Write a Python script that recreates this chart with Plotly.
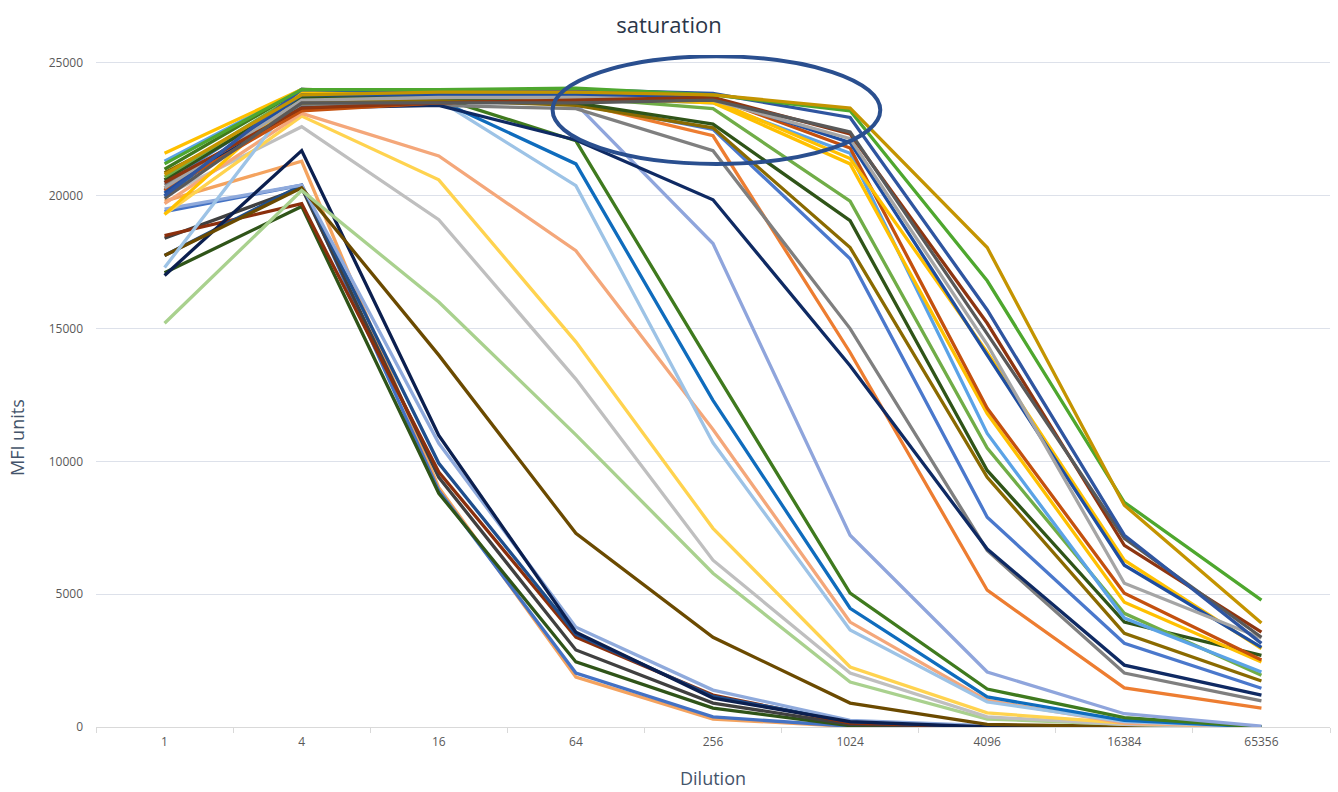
import plotly.graph_objects as go

dilutions = ["1", "4", "16", "64", "256", "1024", "4096", "16384", "65356"]

# late-drop series
s01 = [20800, 23800, 23900, 23900, 23800, 23300, 18050, 8350, 3920]
s02 = [21200, 24000, 24000, 24050, 23800, 23200, 16800, 8460, 4780]
s03 = [20000, 24000, 23900, 24000, 23850, 22950, 15700, 7220, 3150]
s04 = [19900, 23500, 23500, 23500, 23600, 22400, 14800, 7100, 3380]
s05 = [20500, 23300, 23500, 23600, 23700, 22330, 15200, 6840, 3570]
s06 = [20300, 23600, 23700, 23700, 23600, 22150, 14400, 5410, 3350]
s07 = [20100, 23800, 23800, 23800, 23700, 22000, 14000, 6090, 3000]
s08 = [21600, 24000, 23900, 23900, 23600, 21400, 14100, 6280, 2950]
s09 = [20200, 23200, 23500, 23600, 23700, 21800, 12000, 5040, 2520]
s10 = [19300, 23900, 23800, 23700, 23500, 21200, 11800, 4700, 2450]
s11 = [21300, 24000, 23800, 23700, 23500, 21600, 11050, 4100, 2070]
s12 = [20700, 23900, 23800, 23700, 23280, 19800, 10500, 4280, 1950]
s13 = [20600, 23700, 23700, 23500, 22700, 19060, 9660, 3950, 2700]
s14 = [20870, 23500, 23600, 23400, 22560, 18050, 9400, 3530, 1730]
s15 = [20500, 23800, 23700, 23500, 22500, 17630, 7900, 3150, 1460]
s16 = [20200, 23300, 23400, 22100, 19850, 13600, 6700, 2330, 1200]
s17 = [20400, 23400, 23400, 23280, 21700, 15000, 6650, 2030, 980]
s18 = [20300, 23500, 23600, 23500, 22260, 14100, 5150, 1470, 710]
s19 = [20600, 23900, 23700, 23460, 18200, 7220, 2070, 500, 30]
# mid series
s20 = [21000, 24000, 23700, 22070, 13500, 5040, 1430, 350, 0]
s21 = [20000, 23800, 23600, 21200, 12300, 4470, 1130, 250, 0]
s22 = [17300, 24000, 23600, 20380, 10700, 3650, 940, 200, 0]
s23 = [19700, 23100, 21500, 17930, 11200, 3950, 1000, 150, 0]
s24 = [19300, 23000, 20600, 14500, 7480, 2260, 530, 150, 0]
s25 = [20000, 22600, 19100, 13100, 6280, 2030, 380, 100, 0]
s26 = [15200, 20200, 16000, 11000, 5790, 1690, 300, 100, 0]
s27 = [17750, 20300, 14000, 7290, 3380, 900, 100, 20, 0]
# early-drop series
s28 = [17000, 21700, 10980, 3570, 1090, 200, 0, 0, 0]
s29 = [19500, 20400, 10680, 3760, 1390, 250, 50, 0, 0]
s30 = [17750, 20400, 9930, 3500, 1150, 200, 0, 0, 0]
s31 = [18500, 19700, 9600, 3380, 1200, 150, 0, 0, 0]
s32 = [18400, 20300, 9400, 2900, 900, 100, 0, 0, 0]
s33 = [17100, 19600, 8800, 2450, 710, 50, 0, 0, 0]
s34 = [19400, 20400, 8900, 2030, 380, 30, 0, 0, 0]
s35 = [19800, 21300, 9020, 1880, 300, 20, 0, 0, 0]

series = [s35, s34, s33, s32, s31, s30, s29, s28,
          s27, s26, s25, s24, s23, s22, s21, s20,
          s19, s18, s17, s16, s15, s14, s13, s12, s11, s10,
          s09, s08, s07, s06, s05, s04, s03, s02, s01]
colors = ["#f4a35f", "#4472c4", "#2f5418", "#404040", "#8b2f0c", "#1f4e8c", "#8faadc", "#0b1f4f",
          "#6b4a00", "#a9d18e", "#bfbfbf", "#ffd34f", "#f4a77a", "#9dc3e6", "#0f6cbd", "#3f7a1e",
          "#8fa5dc", "#ed7d31", "#7f7f7f", "#0f2a63", "#4a78cc", "#8a6a00", "#2f5418", "#70ad47", "#5ba3e6", "#ffc000",
          "#c4500e", "#ffc000", "#1f4ea0", "#a5a5a5", "#8e3510", "#595959", "#2f55a0", "#4ea72e", "#c49400"]

fig = go.Figure()
for vals, col in zip(series, colors):
    fig.add_trace(go.Scatter(x=dilutions, y=vals, mode="lines",
                             line=dict(color=col, width=3.3), hoverinfo="skip"))

fig.add_shape(type="circle", xref="x", yref="y",
              x0=2.83, x1=5.22, y0=21200, y1=25250,
              line=dict(color="#2a4f8f", width=4), layer="above")

fig.update_layout(
    width=1338, height=792,
    margin=dict(l=96, r=8, t=55, b=65),
    paper_bgcolor="white", plot_bgcolor="white",
    showlegend=False,
    font=dict(family="Open Sans, sans-serif", color="#595959"),
    title=dict(text="saturation", x=0.5, xanchor="center", y=0.968, yanchor="middle",
               font=dict(size=22, color="#2b3648")),
    xaxis=dict(type="category", range=[-0.5, 8.5], showgrid=False,
               showline=True, linecolor="#d9d9d9", linewidth=1,
               ticks="outside", tickson="boundaries", ticklen=5, tickcolor="#d9d9d9",
               ticklabelstandoff=4,
               tickfont=dict(size=12, color="#595959")),
    yaxis=dict(range=[0, 25300], dtick=5000, tick0=0, showgrid=True,
               gridcolor="#dde1ea", gridwidth=1, zeroline=False,
               showline=False, ticks="", tickformat="d",
               ticklabelstandoff=12,
               tickfont=dict(size=12, color="#595959")),
    annotations=[
        dict(text="Dilution", xref="paper", yref="paper", x=0.5, y=-0.076,
             xanchor="center", yanchor="middle", showarrow=False,
             font=dict(size=18, color="#44546a")),
        dict(text="MFI units", xref="paper", x=-0.064, yref="paper", y=0.43,
             xanchor="center", yanchor="middle", showarrow=False, textangle=-90,
             font=dict(size=18, color="#44546a")),
    ],
)

fig.write_html("out.html")
